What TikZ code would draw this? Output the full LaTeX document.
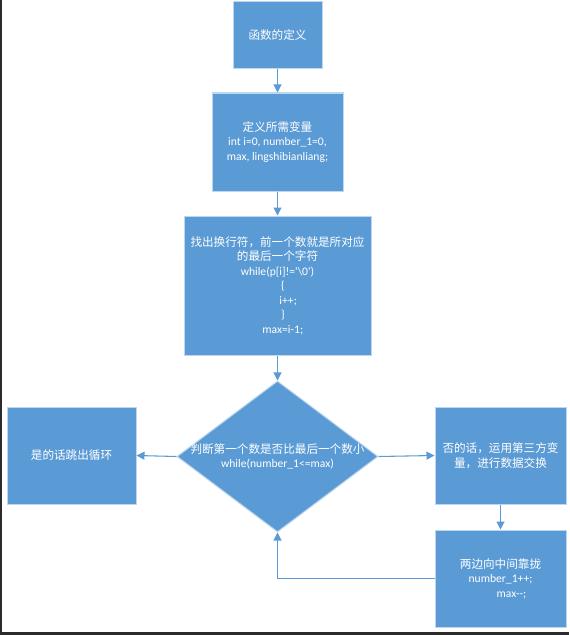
\documentclass[tikz,border=0pt]{standalone}
\usepackage{fontspec}
\setmainfont{Carlito}
\newfontfamily\cjk{Noto Sans CJK SC}
\usetikzlibrary{shapes.geometric,arrows.meta}
\definecolor{boxblue}{HTML}{5B9BD5}
\definecolor{edgeblue}{HTML}{BDD7EE}
\definecolor{framegray}{HTML}{2B2B2B}
\begin{document}
\begin{tikzpicture}[x=0.75pt,y=-0.75pt,
  box/.style={rectangle,fill=boxblue,draw=edgeblue,line width=0.75pt,inner sep=0pt,
    minimum width=#1},
  txt/.style={text=white,align=center,font=\fontsize{8.7}{10.9}\selectfont,inner sep=0pt},
  conn/.style={draw=boxblue,line width=0.8pt,-{Triangle[length=6pt,width=6pt]}}]
\useasboundingbox (0,0) rectangle (569,635);
\fill[white] (0,0) rectangle (569,635);
\fill[framegray] (0,0) rectangle (2,635);
\fill[framegray] (0,632) rectangle (569,635);
% boxes
\node[box=66.75pt,minimum height=50.25pt] (b1) at (277.5,35.5) {};
\node[txt] (t1) at (b1) {\cjk 函数的定义};
\node[box=98.25pt,minimum height=73.5pt] (b2) at (277.5,142) {};
\node[txt] (t2) at (b2) {{\cjk 定义所需变量}\\int i=0, number\_1=0,\\max, lingshibianliang;};
\node[box=140.25pt,minimum height=104.25pt] (b3) at (277.5,285.5) {};
\node[txt] (t3) at (b3) {{\cjk 找出换行符，前一个数就是所对应}\\{\cjk 的最后一个字符}\\while(p[i]!=\textquotesingle\textbackslash 0\textquotesingle)\\\hspace*{8pt}\{\\\hspace*{16pt}i++;\\\hspace*{8pt}\}\\\hspace*{8pt}max=i-1;};
\node[diamond,fill=boxblue,draw=edgeblue,line width=0.75pt,inner sep=0pt,
  minimum width=150.75pt,minimum height=113.25pt] (d) at (277.5,456.5) {};
\node[txt] (td) at (d) {{\cjk 判断第一个数是否比最后一个数小}\\while(number\_1<=max)};
\node[box=96.75pt,minimum height=72.75pt] (l) at (71.5,455.5) {};
\node[txt] (tl) at (l) {\cjk 是的话跳出循环};
\node[box=98.25pt,minimum height=72.75pt] (r1) at (500.5,455.5) {};
\node[txt] (tr1) at (r1) {{\cjk 否的话，运用第三方变}\\{\cjk 量，进行数据交换}};
\node[box=98.25pt,minimum height=72.75pt] (r2) at (500.5,578.5) {};
\node[txt] (tr2) at (r2) {{\cjk 两边向中间靠拢}\\number\_1++;\\\hspace*{16.5pt}max{-}{-};};
% connectors
\draw[conn] (b1) -- (b2);
\draw[conn] (b2) -- (b3);
\draw[conn] (b3) -- (d);
\draw[conn] (d.west) -- (l.east);
\draw[conn] (d.east) -- (r1.west);
\draw[conn] (r1) -- (r2);
\draw[conn] (r2.west) -| (d.south);
\end{tikzpicture}
\end{document}
